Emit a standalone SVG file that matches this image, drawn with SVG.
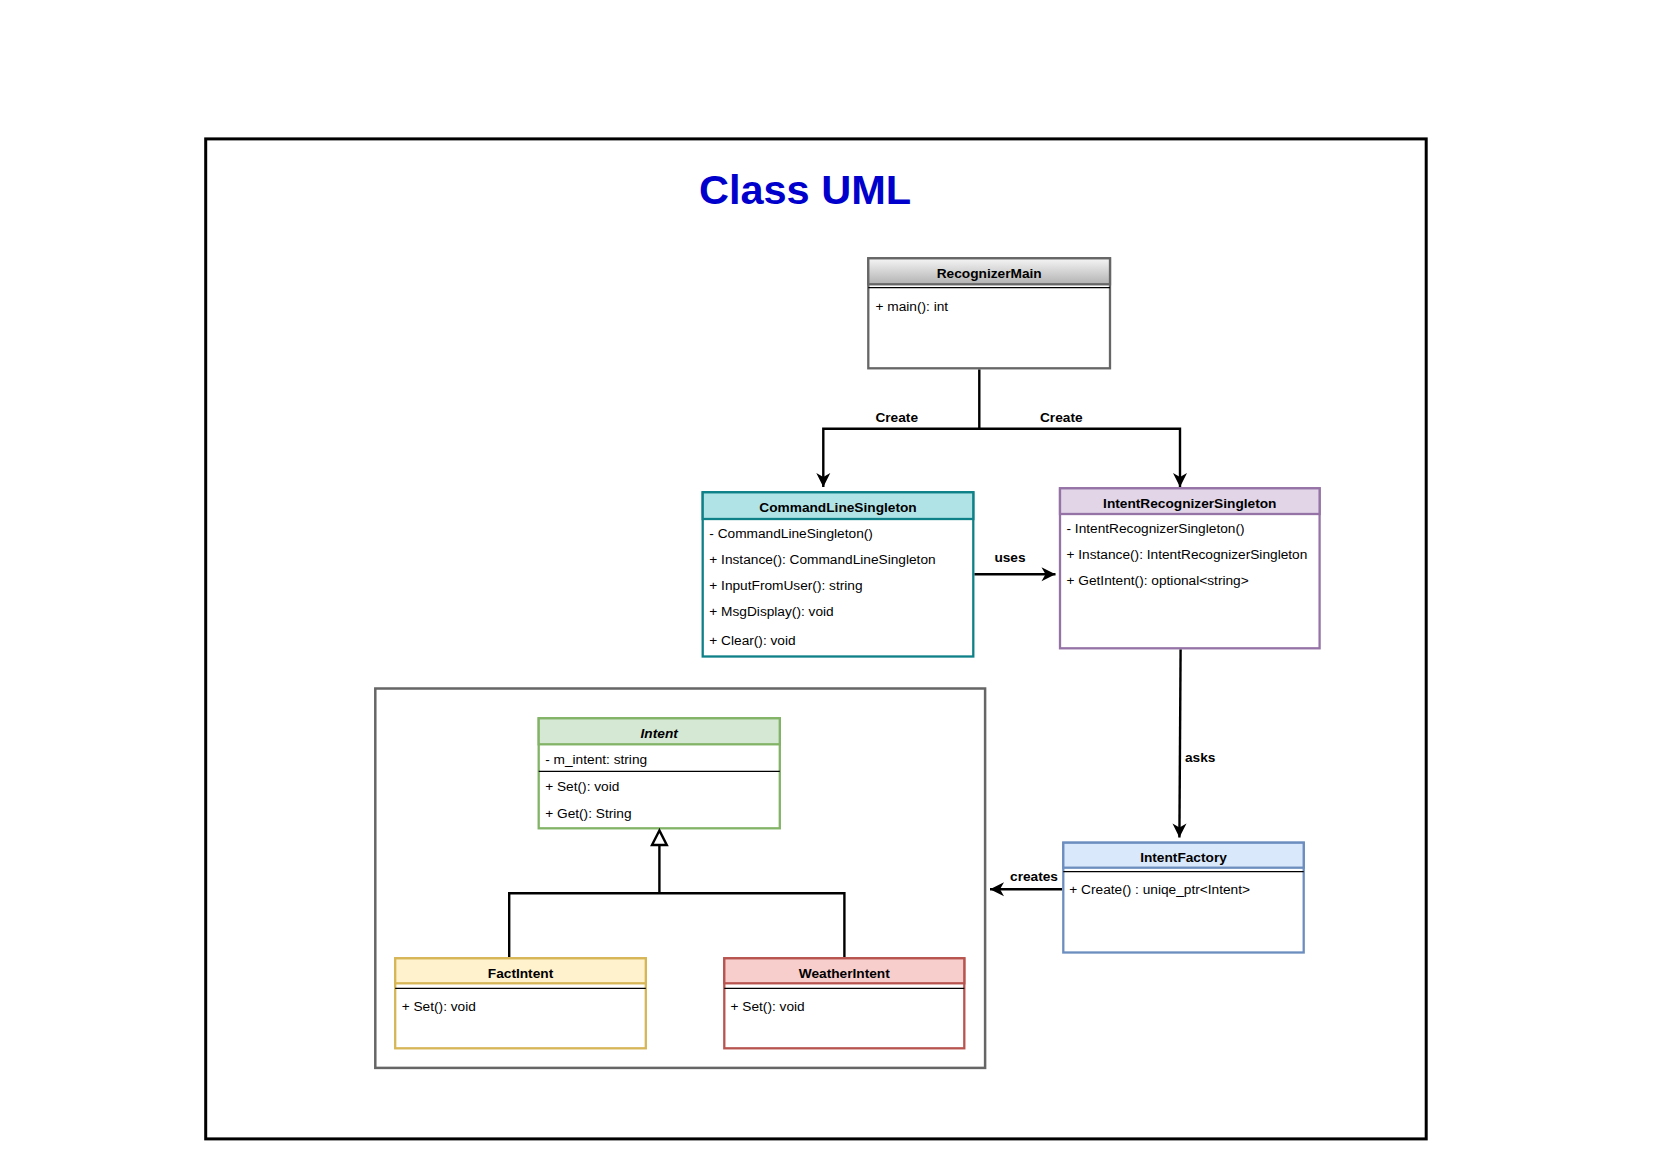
<svg xmlns="http://www.w3.org/2000/svg" width="1654" height="1169" viewBox="0 0 1654 1169">
<style>
.t{font-family:"Liberation Sans",Arial,sans-serif;font-size:13.7px;fill:#000}
.b{font-weight:bold}
.m{text-anchor:middle}
.box{fill:#fff;stroke-width:2.3}
.sep{stroke:#000;stroke-width:1.2}
.con{fill:none;stroke:#000;stroke-width:2.4}
</style>
<defs>
<linearGradient id="gg" x1="0" y1="0" x2="0" y2="1">
<stop offset="0" stop-color="#f5f5f5"/>
<stop offset="1" stop-color="#b3b3b3"/>
</linearGradient>
<marker id="ar" markerUnits="userSpaceOnUse" markerWidth="20" markerHeight="20" viewBox="-15 -10 20 20" refX="0" refY="0" orient="auto">
<path d="M0,0 L-14,-7 L-10,0 L-14,7 Z" fill="#000"/>
</marker>
</defs>
<rect width="1654" height="1169" fill="#fff"/>
<g id="frame">
<rect x="205.7" y="138.9" width="1220.5" height="1000" fill="none" stroke="#000" stroke-width="3"/>
<text x="805" y="204" class="t b m" style="font-size:41.5px;fill:#0000cc">Class UML</text>
</g>
<g id="package">
<rect x="375.3" y="688.5" width="609.8" height="379.4" fill="none" stroke="#666" stroke-width="2.5"/>
</g>
<g id="RecognizerMain">
<rect x="868.3" y="258.3" width="241.7" height="110" class="box" stroke="#666"/>
<rect x="868.3" y="258.3" width="241.7" height="26" fill="url(#gg)" stroke="#666" stroke-width="2.3"/>
<line x1="868.3" y1="287.7" x2="1110" y2="287.7" class="sep"/>
<text x="989.2" y="278.3" class="t b m">RecognizerMain</text>
<text x="875.5" y="311" class="t">+ main(): int</text>
</g>
<g id="CommandLineSingleton">
<rect x="702.7" y="492.3" width="270.6" height="164.2" class="box" stroke="#0e8088"/>
<rect x="702.7" y="492.3" width="270.6" height="26.7" fill="#b0e3e6" stroke="#0e8088" stroke-width="2.3"/>
<text x="838" y="511.7" class="t b m">CommandLineSingleton</text>
<text x="709.3" y="537.5" class="t">- CommandLineSingleton()</text>
<text x="709.3" y="563.5" class="t">+ Instance(): CommandLineSingleton</text>
<text x="709.3" y="589.5" class="t">+ InputFromUser(): string</text>
<text x="709.3" y="615.5" class="t">+ MsgDisplay(): void</text>
<text x="709.3" y="644.5" class="t">+ Clear(): void</text>
</g>
<g id="IntentRecognizerSingleton">
<rect x="1060" y="488.3" width="259.6" height="160" class="box" stroke="#9673a6"/>
<rect x="1060" y="488.3" width="259.6" height="25.7" fill="#e1d5e7" stroke="#9673a6" stroke-width="2.3"/>
<text x="1189.8" y="507.7" class="t b m">IntentRecognizerSingleton</text>
<text x="1066.5" y="533" class="t">- IntentRecognizerSingleton()</text>
<text x="1066.5" y="559" class="t">+ Instance(): IntentRecognizerSingleton</text>
<text x="1066.5" y="585" class="t">+ GetIntent(): optional&lt;string&gt;</text>
</g>
<g id="IntentFactory">
<rect x="1063.3" y="842.7" width="240.4" height="109.8" class="box" stroke="#6c8ebf"/>
<rect x="1063.3" y="842.7" width="240.4" height="25" fill="#dae8fc" stroke="#6c8ebf" stroke-width="2.3"/>
<line x1="1063.3" y1="871.7" x2="1303.7" y2="871.7" class="sep"/>
<text x="1183.5" y="861.7" class="t b m">IntentFactory</text>
<text x="1069.3" y="894" class="t">+ Create() : uniqe_ptr&lt;Intent&gt;</text>
</g>
<g id="Intent">
<rect x="538.7" y="718.3" width="241.1" height="110" class="box" stroke="#82b366"/>
<rect x="538.7" y="718.3" width="241.1" height="26" fill="#d5e8d4" stroke="#82b366" stroke-width="2.3"/>
<line x1="538.7" y1="771.3" x2="779.8" y2="771.3" class="sep"/>
<text x="659.2" y="738.3" class="t b m" font-style="italic">Intent</text>
<text x="545.2" y="763.5" class="t">- m_intent: string</text>
<text x="545.2" y="791" class="t">+ Set(): void</text>
<text x="545.2" y="817.5" class="t">+ Get(): String</text>
</g>
<g id="FactIntent">
<rect x="395.2" y="958.3" width="250.6" height="90" class="box" stroke="#d6b656"/>
<rect x="395.2" y="958.3" width="250.6" height="25" fill="#fff2cc" stroke="#d6b656" stroke-width="2.3"/>
<line x1="395.2" y1="988.3" x2="645.8" y2="988.3" class="sep"/>
<text x="520.5" y="977.5" class="t b m">FactIntent</text>
<text x="401.7" y="1011" class="t">+ Set(): void</text>
</g>
<g id="WeatherIntent">
<rect x="724.3" y="958.3" width="240" height="90" class="box" stroke="#b85450"/>
<rect x="724.3" y="958.3" width="240" height="25" fill="#f8cecc" stroke="#b85450" stroke-width="2.3"/>
<line x1="724.3" y1="988.3" x2="964.3" y2="988.3" class="sep"/>
<text x="844.3" y="977.5" class="t b m">WeatherIntent</text>
<text x="730.5" y="1011" class="t">+ Set(): void</text>
</g>
<g id="connectors">
<path d="M979.3,369.5 V428.7 H823.3 V487" class="con" marker-end="url(#ar)"/>
<path d="M979.3,428.7 H1180 V487" class="con" marker-end="url(#ar)"/>
<path d="M974.5,574.3 H1055.5" class="con" marker-end="url(#ar)"/>
<path d="M1180.6,649.5 L1179.4,837.5" class="con" marker-end="url(#ar)"/>
<path d="M1062,889.3 H990" class="con" marker-end="url(#ar)"/>
<path d="M659.4,845 V893.3 H509.2 V957 M659.4,893.3 H844.4 V957" class="con"/>
<polygon points="659.4,830.5 652,845 666.8,845" fill="#fff" stroke="#000" stroke-width="2.4"/>
<text x="896.7" y="421.7" class="t b m">Create</text>
<text x="1061.3" y="421.7" class="t b m">Create</text>
<text x="1010" y="561.7" class="t b m">uses</text>
<text x="1185" y="761.7" class="t b">asks</text>
<text x="1034" y="881" class="t b m">creates</text>
</g>
</svg>
